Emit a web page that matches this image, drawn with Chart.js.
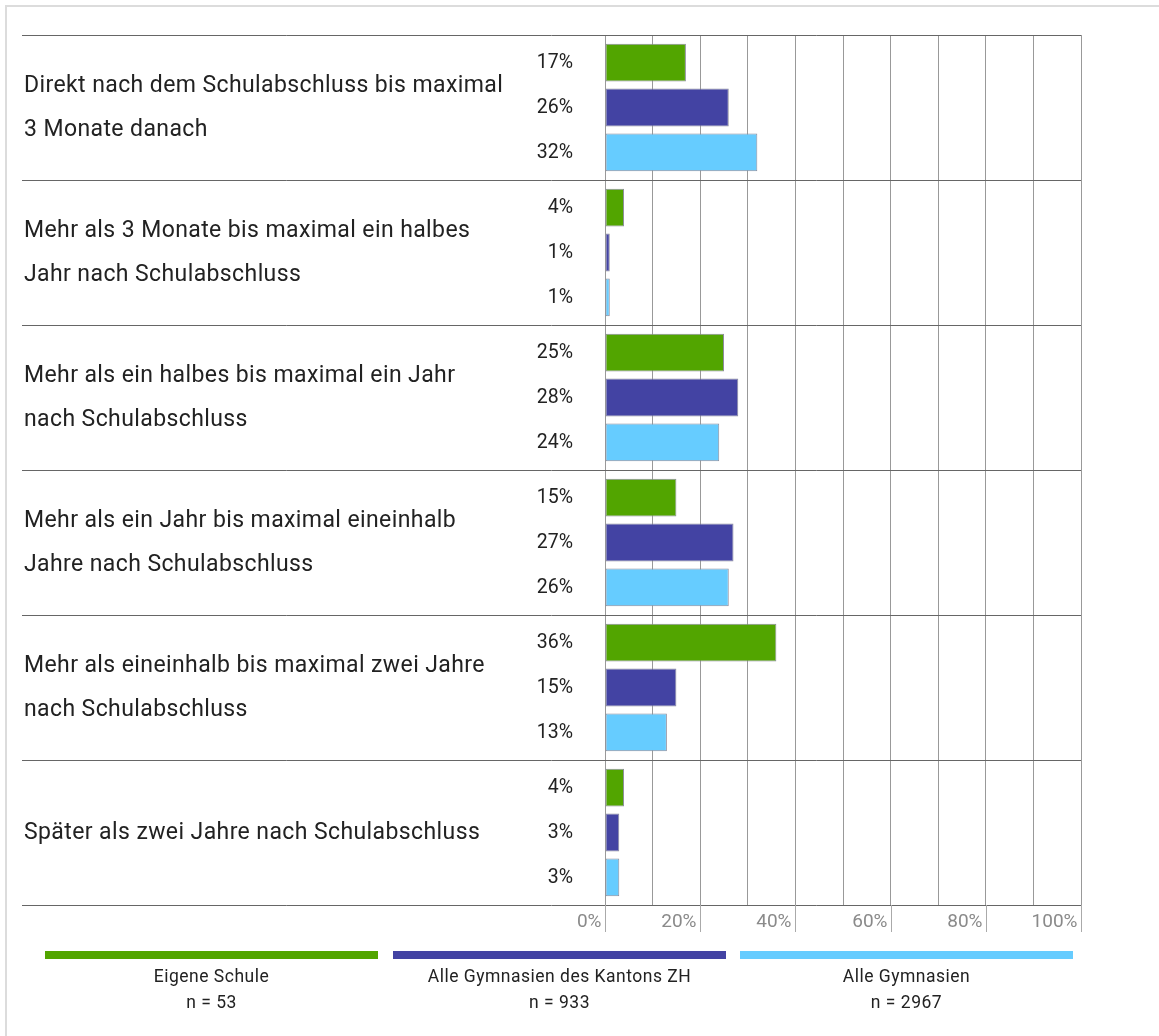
<!DOCTYPE html>
<html>
<head>
<meta charset="utf-8">
<script src="https://cdn.jsdelivr.net/npm/chart.js@4"></script>
<style>
  body { margin: 0; background: #fff; }
  #wrap { width: 1159px; height: 1036px; position: relative; }
</style>
</head>
<body>
<div id="wrap"><canvas id="chart"></canvas></div>
<script>
// Data
const categories = [
  ['Direkt nach dem Schulabschluss bis maximal', '3 Monate danach'],
  ['Mehr als 3 Monate bis maximal ein halbes', 'Jahr nach Schulabschluss'],
  ['Mehr als ein halbes bis maximal ein Jahr', 'nach Schulabschluss'],
  ['Mehr als ein Jahr bis maximal eineinhalb', 'Jahre nach Schulabschluss'],
  ['Mehr als eineinhalb bis maximal zwei Jahre', 'nach Schulabschluss'],
  ['Später als zwei Jahre nach Schulabschluss']
];
const eigeneSchule = [17, 4, 25, 15, 36, 4];
const kantonZH = [26, 1, 28, 27, 15, 3];
const alleGymnasien = [32, 1, 24, 26, 13, 3];
const seriesNames = ['Eigene Schule', 'Alle Gymnasien des Kantons ZH', 'Alle Gymnasien'];
const sampleSizes = ['n = 53', 'n = 933', 'n = 2967'];
const tickLabels = ['0%', '20%', '40%', '60%', '80%', '100%'];

const colors = ['#52a500', '#4343a3', '#66ccff'];
const FONT = 'Roboto, "Open Sans", sans-serif';

// draws labels, separators and the legend around the bars
const decorations = {
  id: 'decorations',
  afterDraw(chart) {
    const ctx = chart.ctx;
    const { left, right, top, bottom } = chart.chartArea;
    const x = chart.scales.x;
    const y = chart.scales.y;
    const n = categories.length;
    const band = (bottom - top) / n;

    ctx.save();

    // outer frame
    ctx.strokeStyle = '#dcdcdc';
    ctx.lineWidth = 2;
    ctx.beginPath();
    ctx.moveTo(6, 1036);
    ctx.lineTo(6, 6);
    ctx.lineTo(1159, 6);
    ctx.stroke();

    // category separators
    ctx.strokeStyle = '#666';
    ctx.lineWidth = 1;
    for (let i = 0; i <= n; i++) {
      const yy = Math.round(top + i * band) + 0.5;
      ctx.beginPath();
      ctx.moveTo(22, yy);
      ctx.lineTo(right, yy);
      ctx.stroke();
    }

    // category labels
    ctx.fillStyle = '#222';
    ctx.font = '23px ' + FONT;
    ctx.letterSpacing = '0.4px';
    ctx.textAlign = 'left';
    ctx.textBaseline = 'middle';
    categories.forEach((lines, i) => {
      const cy = y.getPixelForValue(i) + 1;
      const lh = 44;
      const start = cy - (lines.length - 1) * lh / 2;
      lines.forEach((t, j) => ctx.fillText(t, 24, start + j * lh));
    });

    // value labels
    ctx.font = '19.5px ' + FONT;
    ctx.letterSpacing = '0px';
    ctx.textAlign = 'right';
    chart.data.datasets.forEach((ds, di) => {
      const meta = chart.getDatasetMeta(di);
      meta.data.forEach((bar, i) => {
        ctx.fillText(ds.data[i] + '%', 573, bar.y + 1);
      });
    });

    // axis ticks below plot
    ctx.strokeStyle = '#aaa';
    ctx.fillStyle = '#8a8a8a';
    ctx.font = '19px ' + FONT;
    tickLabels.forEach((t, i) => {
      const xx = Math.round(x.getPixelForValue(i * 20)) + 0.5;
      ctx.beginPath();
      ctx.moveTo(xx, bottom);
      ctx.lineTo(xx, bottom + 27);
      ctx.stroke();
      ctx.fillText(t, xx - 4, bottom + 17);
    });

    // legend
    const legX = [45, 393, 740];
    const legW = 333;
    ctx.textAlign = 'center';
    ctx.font = '17.5px ' + FONT;
    ctx.letterSpacing = '0.5px';
    seriesNames.forEach((name, i) => {
      ctx.fillStyle = colors[i];
      ctx.fillRect(legX[i], 951, legW, 8);
      ctx.fillStyle = '#222';
      ctx.fillText(name, legX[i] + legW / 2, 978);
      ctx.fillText(sampleSizes[i], legX[i] + legW / 2, 1004);
    });

    ctx.restore();
  }
};

new Chart(document.getElementById('chart'), {
  type: 'bar',
  data: {
    labels: categories,
    datasets: [eigeneSchule, kantonZH, alleGymnasien].map((d, i) => ({
      label: seriesNames[i],
      data: d,
      backgroundColor: colors[i],
      borderColor: '#8c8c9c',
      borderWidth: 1,
      borderSkipped: false,
      categoryPercentage: 0.93,
      barPercentage: 0.84
    }))
  },
  options: {
    indexAxis: 'y',
    responsive: true,
    maintainAspectRatio: false,
    animation: false,
    layout: { padding: { left: 605, right: 78, top: 35, bottom: 131 } },
    plugins: { legend: { display: false }, tooltip: { enabled: false } },
    scales: {
      x: {
        min: 0,
        max: 100,
        ticks: { display: false, stepSize: 10 },
        grid: { color: '#999', drawTicks: false },
        border: { display: false }
      },
      y: { display: false }
    }
  },
  plugins: [decorations]
});
</script>
</body>
</html>
